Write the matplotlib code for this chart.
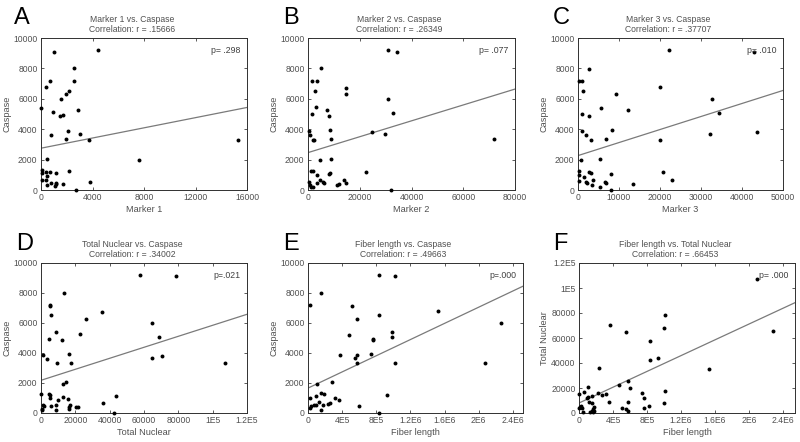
import numpy as np
import matplotlib.pyplot as plt

plt.rcParams['font.family'] = ['Liberation Sans', 'DejaVu Sans']

# ---- data ----
# A: Marker 1 vs Caspase
m1_x = [1000, 4400, 2600, 700, 2600, 400, 2200, 1950, 1550, 2900, 900, 1700, 1500,
        2100, 750, 3050, 1950, 3700, 15300, 450, 7600, 2150, 400, 725, 1140, 50,
        470, 80, 390, 800, 1140, 1190, 1110, 1700, 470, 3830, 2740, 0, 50]
m1_y = [9100, 9200, 8000, 7200, 7150, 6750, 6500, 6300, 6000, 5270, 5100, 4950, 4880,
        3850, 3620, 3700, 3360, 3320, 3320, 2070, 1960, 1270, 1180, 1160, 1100, 1100,
        945, 660, 660, 480, 480, 370, 265, 420, 310, 530, 0, 5400, 1320]

# B: Marker 2 vs Caspase
m2_x = [31000, 34500, 4900, 1680, 3480, 14840, 14840, 2580, 31000, 3230, 7480, 32900,
        1680, 8000, 390, 650, 8390, 1935, 2320, 9030, 24770, 29940, 72000, 4520, 8770,
        1290, 1935, 22580, 8000, 8390, 3480, 390, 650, 1290, 1935, 4770, 5800, 6190,
        3610, 11350, 11870, 13930, 14840, 32000]
m2_y = [9190, 9100, 8000, 7165, 7190, 6725, 6310, 6530, 6000, 5450, 5275, 5077,
        4990, 4860, 3910, 3630, 3956, 3320, 3320, 3360, 3824, 3670, 3340, 1956, 2066,
        1275, 1250, 1187, 1077, 1120, 967, 530, 330, 220, 175, 637, 505, 440,
        440, 330, 420, 660, 460, 0]

# C: Marker 3 vs Caspase
m3_x = [22120, 42950, 2590, 240, 1050, 1215, 20000, 9320, 32740, 5670, 12150, 34440,
        970, 2670, 970, 2025, 8270, 3240, 6730, 20100, 32170, 43760, 5430, 810, 240,
        240, 2670, 3080, 8100, 20830, 22850, 1380, 240, 3650, 2025, 2270, 3400, 6480,
        6730, 5270, 13530, 8100]
m3_y = [9187, 9077, 7980, 7190, 7190, 6530, 6750, 6310, 6000, 5410, 5275, 5077,
        4990, 4860, 3910, 3650, 3956, 3320, 3360, 3320, 3670, 3846, 2066, 1956, 1275,
        990, 1190, 1100, 1055, 1187, 660, 880, 594, 660, 505, 460, 330, 505,
        440, 175, 418, 0]

# D: Total Nuclear vs Caspase
tn_x = [57680, 78580, 13550, 5030, 5420, 6000, 35420, 26320, 64840, 8900, 22450, 68510,
        4640, 12190, 970, 3680, 16450, 9290, 17420, 64840, 70450, 107400, 14520, 12580,
        0, 4450, 5030, 5030, 12770, 15680, 43740, 9680, 1160, 1550, 5800, 8900, 390,
        780, 8520, 16640, 16450, 16060, 20320, 21290, 36390, 42770]
tn_y = [9220, 9110, 8000, 7200, 7130, 6510, 6750, 6290, 6000, 5380, 5240, 5070,
        4930, 4870, 3890, 3620, 3930, 3310, 3330, 3670, 3820, 3310, 2040, 1930,
        1290, 1290, 1180, 1000, 1070, 960, 1130, 844, 555, 467, 444, 555, 244,
        178, 178, 511, 400, 289, 400, 378, 667, 0]

# E: Fiber length vs Caspase
fl_x = [8.3e5, 1.014e6, 1.55e5, 2.3e4, 5.11e5, 8.32e5, 5.73e5, 1.518e6, 2.257e6, 9.87e5,
        9.87e5, 4.84e5, 7.59e5, 7.63e5, 3.72e5, 7.36e5, 5.5e5, 5.8e5, 5.8e5, 1.014e6,
        2.071e6, 2.79e5, 1.08e5, 9.21e5, 1.9e4, 8.9e4, 1.47e5, 1.86e5, 3.21e5, 3.68e5,
        1.24e5, 7e4, 3.9e4, 9.7e4, 1.74e5, 2.32e5, 2.52e5, 1.55e5, 2.3e4, 5.96e5, 8.32e5]
fl_y = [9220, 9110, 8010, 7210, 7140, 6530, 6280, 6770, 6020, 5400,
        5090, 5220, 4930, 4870, 3850, 3940, 3670, 3890, 3320, 3360,
        3320, 2080, 1950, 1170, 1000, 1110, 1330, 1260, 1000, 885,
        710, 553, 442, 510, 553, 600, 664, 220, 330, 442, 0]

# F: Fiber length vs Total Nuclear
ff_x = [2.098e6, 2.276e6, 1.016e6, 9.96e5, 3.62e5, 5.55e5, 8.31e5, 8.31e5, 9.25e5, 1.528e6,
        2.4e5, 4.76e5, 5.75e5, 5.94e5, 1.016e6, 7.4e5, 7.6e5, 1.1e5, 5.9e4, 2.2e5,
        3.19e5, 2.68e5, 1.57e5, 9.1e4, 1.02e5, 3.58e5, 5.71e5, 9.96e5, 1.22e5, 1.57e5,
        8.27e5, 7.6e5, 5.04e5, 5.47e5, 5.75e5, 1.2e4, 2e4, 3.1e4, 0, 4.3e4,
        1.3e5, 1.5e5, 1.65e5, 1.75e5, 1.7e5, 1.77e5, 5000]
ff_y = [107470, 65330, 78670, 68270, 70130, 64800, 57600, 42670, 44000, 35200,
        36270, 22400, 25600, 20000, 17330, 16270, 12270, 20800, 16800, 16000,
        15470, 14130, 13330, 12270, 12530, 8800, 8530, 8000, 8800, 8000,
        5600, 4000, 4000, 3470, 1330, 4800, 5330, 4270, 4270, 800,
        1200, 1900, 1000, 1800, 3200, 4800, 15500]

titles = ['Marker 1 vs. Caspase', 'Marker 2 vs. Caspase', 'Marker 3 vs. Caspase',
          'Total Nuclear vs. Caspase', 'Fiber length vs. Caspase',
          'Fiber length vs. Total Nuclear']
r_values = ['.15666', '.26349', '.37707', '.34002', '.49663', '.66453']
p_values = ['p= .298', 'p= .077', 'p= .010', 'p=.021', 'p=.000', 'p= .000']
x_labels = ['Marker 1', 'Marker 2', 'Marker 3', 'Total Nuclear', 'Fiber length', 'Fiber length']
y_labels = ['Caspase'] * 5 + ['Total Nuclear']
letters = ['A', 'B', 'C', 'D', 'E', 'F']

# fitted line (intercept, slope)
fit_intercept = [2750, 2460, 2264, 2180, 1660, 8000]
fit_slope = [0.1675, 0.05225, 0.0857, 0.03667, 0.002696, 0.0316]

caspase_ticks = [0, 2000, 4000, 6000, 8000, 10000]
x_ticks = [
    ([0, 4000, 8000, 12000, 16000], ['0', '4000', '8000', '12000', '16000']),
    ([0, 20000, 40000, 60000, 80000], ['0', '20000', '40000', '60000', '80000']),
    ([0, 10000, 20000, 30000, 40000, 50000], ['0', '10000', '20000', '30000', '40000', '50000']),
    ([0, 20000, 40000, 60000, 80000, 100000, 120000],
     ['0', '20000', '40000', '60000', '80000', '1E5', '1.2E5']),
    ([0, 4e5, 8e5, 1.2e6, 1.6e6, 2e6, 2.4e6], ['0', '4E5', '8E5', '1.2E6', '1.6E6', '2E6', '2.4E6']),
    ([0, 4e5, 8e5, 1.2e6, 1.6e6, 2e6, 2.4e6], ['0', '4E5', '8E5', '1.2E6', '1.6E6', '2E6', '2.4E6']),
]
x_limits = [16000, 80000, 50000, 120000, 2.52e6, 2.54e6]
y_ticks = [(caspase_ticks, [str(v) for v in caspase_ticks])] * 5 + [
    ([0, 20000, 40000, 60000, 80000, 100000, 120000],
     ['0', '20000', '40000', '60000', '80000', '1E5', '1.2E5'])]
y_limits = [10000] * 5 + [120000]

xs = [m1_x, m2_x, m3_x, tn_x, fl_x, ff_x]
ys = [m1_y, m2_y, m3_y, tn_y, fl_y, ff_y]

# axes boxes in pixels: left, right, top, bottom
boxes = [(41, 247, 38, 190), (308, 515, 38, 190), (578, 783, 38, 190),
         (41, 247, 263, 413), (308, 523, 263, 413), (579, 795, 263, 413)]
# letter left edge and baseline in pixels
letter_pos = [(14, 24), (283, 24), (553, 24), (16, 250), (283, 250), (553, 250)]

W, H = 800, 442
fig = plt.figure(figsize=(W / 100, H / 100), dpi=100)
text_gray = '#505050'

for i in range(6):
    l, r, t, b = boxes[i]
    ax = fig.add_axes([l / W, 1 - b / H, (r - l) / W, (b - t) / H])
    ax.scatter(xs[i], ys[i], s=8, color='black', linewidths=0, zorder=3, clip_on=False)
    ax.axline((0, fit_intercept[i]), slope=fit_slope[i], color='#7a7a7a', lw=0.9)
    ax.set_xlim(0, x_limits[i])
    ax.set_ylim(0, y_limits[i])
    ax.set_xticks(x_ticks[i][0])
    ax.set_xticklabels(x_ticks[i][1])
    ax.set_yticks(y_ticks[i][0])
    ax.set_yticklabels(y_ticks[i][1])
    ax.tick_params(direction='in', length=2.5, width=0.6, top=True, right=True,
                   labelsize=6.2, labelcolor=text_gray, color='#404040', pad=2.5)
    for sp in ax.spines.values():
        sp.set_linewidth(0.7)
        sp.set_color('#303030')
    ax.set_xlabel(x_labels[i], fontsize=6.6, color=text_gray, labelpad=2)
    ax.set_ylabel(y_labels[i], fontsize=6.6, color=text_gray, labelpad=1.5)
    ax.set_title(titles[i] + '\nCorrelation: r = ' + r_values[i], fontsize=6.2,
                 color=text_gray, pad=4, linespacing=1.25, x=0.5 - 12 / (r - l))
    ax.text(0.97, 0.95, p_values[i], transform=ax.transAxes, ha='right', va='top',
            fontsize=6.3, color='#404040')
    fig.text(letter_pos[i][0] / W, 1 - letter_pos[i][1] / H, letters[i], fontsize=17,
             ha='left', va='baseline', color='black')

fig.savefig('out.png', dpi=100)
